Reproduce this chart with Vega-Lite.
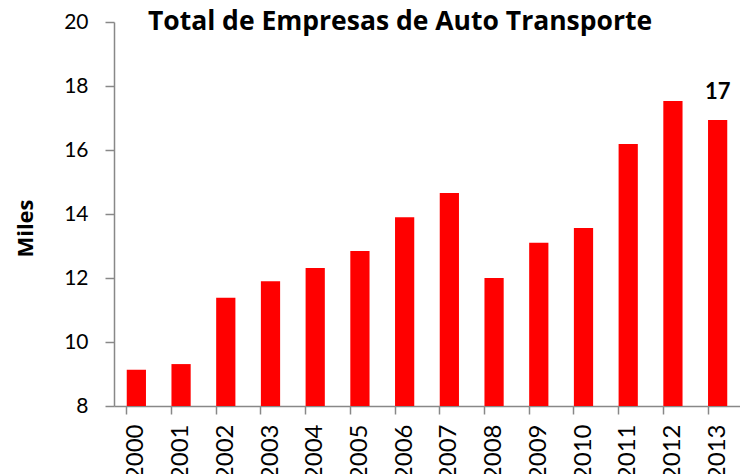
{
  "$schema": "https://vega.github.io/schema/vega-lite/v6.json",
  "width": 626,
  "height": 384,
  "autosize": {"type": "none"},
  "padding": {"left": 114, "top": 22, "right": 0, "bottom": 68},
  "background": "white",
  "config": {"view": {"stroke": null}, "font": "Lato"},
  "title": {"text": "Total de Empresas de Auto Transporte", "fontSize": 26.5, "fontWeight": "bold", "font": "Open Sans", "color": "black", "dx": -27, "offset": -45, "frame": "group", "baseline": "alphabetic"},
  "data": {"values": [
    {"year": "2000", "value": 9.13, "label": ""},
    {"year": "2001", "value": 9.31, "label": ""},
    {"year": "2002", "value": 11.38, "label": ""},
    {"year": "2003", "value": 11.9, "label": ""},
    {"year": "2004", "value": 12.31, "label": ""},
    {"year": "2005", "value": 12.84, "label": ""},
    {"year": "2006", "value": 13.9, "label": ""},
    {"year": "2007", "value": 14.66, "label": ""},
    {"year": "2008", "value": 12.0, "label": ""},
    {"year": "2009", "value": 13.1, "label": ""},
    {"year": "2010", "value": 13.56, "label": ""},
    {"year": "2011", "value": 16.19, "label": ""},
    {"year": "2012", "value": 17.53, "label": ""},
    {"year": "2013", "value": 16.94, "label": "17"}
  ]},
  "encoding": {
    "x": {"field": "year", "type": "ordinal",
      "scale": {"paddingInner": 0.57, "paddingOuter": 0.285},
      "axis": {"title": null, "labelAngle": -90, "labelAlign": "right", "labelBaseline": "middle", "labelFontSize": 24, "labelColor": "black", "labelPadding": 10, "bandPosition": 0, "tickSize": 8, "tickColor": "#888", "domainColor": "#888", "tickWidth": 1.5, "domainWidth": 1.5, "labelFont": "Lato"}},
    "y": {"field": "value", "type": "quantitative",
      "scale": {"domain": [8, 20], "zero": false, "nice": false},
      "axis": {"title": "Miles", "titleFontSize": 22, "titleFontWeight": "bold", "titleColor": "black", "titlePadding": 26, "titleY": 206, "values": [8, 10, 12, 14, 16, 18, 20], "grid": false, "labelFontSize": 21, "labelColor": "black", "labelPadding": 17, "tickSize": 9, "tickColor": "#888", "domainColor": "#888", "tickWidth": 1.5, "domainWidth": 1.5, "labelFont": "Lato", "titleFont": "Open Sans"}}
  },
  "layer": [
    {"mark": {"type": "bar", "color": "#ff0000"}, "encoding": {"y2": {"datum": 8}}},
    {"mark": {"type": "text", "fontSize": 22, "fontWeight": "bold", "baseline": "bottom", "dy": -16, "color": "black", "font": "Lato"},
      "encoding": {"text": {"field": "label"}}}
  ]
}
